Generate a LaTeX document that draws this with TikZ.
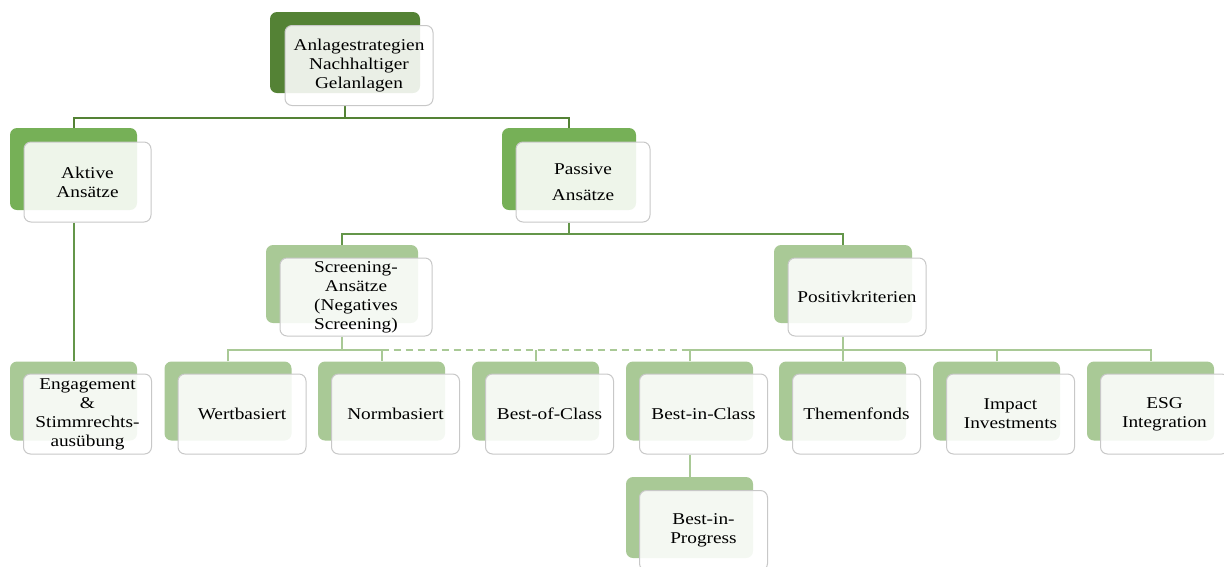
\documentclass[tikz,border=0pt]{standalone}
\usepackage{fontspec}
\setmainfont{Liberation Serif}[FakeStretch=1.17]
\usetikzlibrary{positioning,backgrounds}
\definecolor{grdark}{RGB}{84,130,53}
\definecolor{grmid}{RGB}{118,176,87}
\definecolor{grlight}{RGB}{169,201,150}
\definecolor{cardline}{RGB}{200,200,200}
\tikzset{
  back/.style={rounded corners=7pt, inner sep=0pt},
  card/.style={draw=cardline, line width=1pt, fill=white,
    fill opacity=.88, text opacity=1, rounded corners=7pt,
    align=center, inner sep=2pt, xshift=14pt, yshift=-13pt,
    font=\fontsize{16.5}{19}\selectfont},
  linkdk/.style={draw=grdark, line width=2pt},
  linkmd/.style={draw=grmid!85!black, line width=2pt},
  linklt/.style={draw=grlight, line width=2pt}
}

\begin{document}
\begin{tikzpicture}[x=1pt,y=1pt]
  \useasboundingbox(0,0)rectangle(1224,-566);
  % top
  \node[back, fill=grdark, minimum width=150pt, minimum height=81pt]
    (root-b) at (345,-52.5) {};
  \node[card, minimum width=148pt, minimum height=80pt]
    (root) at (root-b) {Anlagestrategien\\Nachhaltiger\\Gelanlagen};
  % level 1
  \node[back, fill=grmid, minimum width=127pt, minimum height=82pt]
    (akt-b) at (73.5,-169) {};
  \node[card, minimum width=127pt, minimum height=80pt]
    (akt) at (akt-b) {Aktive\\Ansätze};
  \node[back, fill=grmid, minimum width=134pt, minimum height=82pt]
    (pas-b) at (569,-169) {};
  \node[card, minimum width=134pt, minimum height=80pt]
    (pas) at (pas-b) {Passive\\[7pt]Ansätze};
  % level 2
  \node[back, fill=grlight, minimum width=152pt, minimum height=78pt]
    (scr-b) at (342,-284) {};
  \node[card, minimum width=152pt, minimum height=78pt]
    (scr) at (scr-b) {Screening-\\Ansätze\\(Negatives\\Screening)};
  \node[back, fill=grlight, minimum width=138pt, minimum height=78pt]
    (pos-b) at (843,-284) {};
  \node[card, minimum width=138pt, minimum height=78pt]
    (pos) at (pos-b) {Positivkriterien};
  % level 3
  \foreach \n/\x/\t in {eng/73.5/{Engagement\\\&\\Stimmrechts-\\ausübung},
    wert/228/Wertbasiert, norm/381.5/Normbasiert,
    bof/535.5/Best-of-Class, bic/689.5/Best-in-Class,
    them/842.5/Themenfonds, imp/996.5/{Impact\\Investments},
    esg/1150.5/{ESG\\Integration}}{
    \node[back, fill=grlight, minimum width=127pt, minimum height=79pt]
      (\n-b) at (\x,-401) {};
    \node[card, minimum width=128pt, minimum height=80pt]
      (\n) at (\n-b) {\t};
  }
  \node[back, fill=grlight, minimum width=127pt, minimum height=81pt]
    (bip-b) at (689.5,-517.5) {};
  \node[card, minimum width=128pt, minimum height=80pt]
    (bip) at (bip-b) {Best-in-\\Progress};
  % connectors
  \begin{scope}[on background layer]
    \draw[linkdk](root.south -| root-b)--++(0,-12)coordinate(bus1);
    \draw[linkdk](akt-b.north)|-(bus1)-|(pas-b.north);
    \draw[linkmd](pas.south -| pas-b)--++(0,-11)coordinate(bus2);
    \draw[linkmd](scr-b.north)|-(bus2)-|(pos-b.north);
    \draw[linkmd](akt.south -| akt-b)--(eng-b.north);
    \draw[linklt](scr.south -| scr-b)--++(0,-13)coordinate(bus3a);
    \draw[linklt](wert-b.north)|-(bus3a)-|(norm-b.north);
    \draw[linklt, dash pattern=on 7pt off 5pt]
      (norm-b.north |- bus3a)--(bic-b.north |- bus3a);
    \draw[linklt](bof-b.north)--(bof-b.north |- bus3a);
    \draw[linklt](pos.south -| pos-b)--++(0,-13)coordinate(bus3b);
    \draw[linklt](bic-b.north)|-(bus3b)-|(esg-b.north);
    \draw[linklt](them-b.north)--(them-b.north |- bus3b);
    \draw[linklt](imp-b.north)--(imp-b.north |- bus3b);
    \draw[linklt](bic.south -| bic-b)--(bip-b.north);
  \end{scope}
\end{tikzpicture}
\end{document}
